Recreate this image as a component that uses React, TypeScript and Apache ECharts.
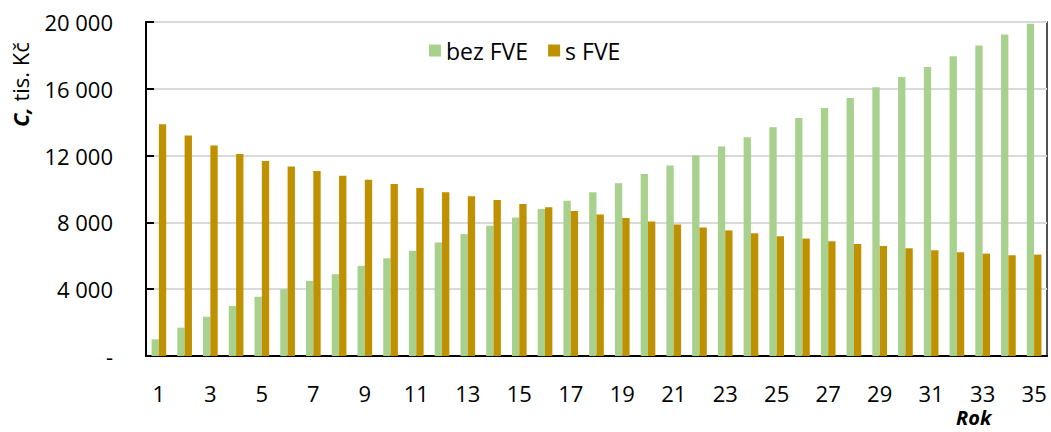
import React, { useEffect, useRef } from "react";
import * as echarts from "echarts";

const years: string[] = Array.from({ length: 35 }, (_, i) => String(i + 1));
const bezFVE: number[] = [
  1000, 1700, 2350, 3000, 3550, 4000, 4500, 4900, 5400, 5850,
  6300, 6800, 7300, 7800, 8300, 8800, 9300, 9800, 10350, 10900,
  11400, 12000, 12550, 13100, 13700, 14250, 14850, 15450, 16100, 16700,
  17300, 17950, 18600, 19250, 19900,
];
const sFVE: number[] = [
  13870, 13200, 12600, 12100, 11680, 11340, 11080, 10800, 10560, 10300,
  10060, 9800, 9560, 9340, 9100, 8900, 8680, 8480, 8260, 8060,
  7880, 7690, 7520, 7350, 7170, 7030, 6870, 6710, 6590, 6450,
  6330, 6210, 6130, 6030, 6070,
];
const seriesNames: string[] = ["bez FVE", "s FVE"];
const yTicks: number[] = [0, 4000, 8000, 12000, 16000, 20000];

const FONT = "'Open Sans', 'Noto Sans', sans-serif";

function fmt(v: number): string {
  if (v === 0) return "-";
  return String(v).replace(/\B(?=(\d{3})+(?!\d))/g, " ");
}

export default function App() {
  const ref = useRef<HTMLDivElement>(null);
  useEffect(() => {
    if (!ref.current) return;
    const chart = echarts.init(ref.current, undefined, { renderer: "svg" });
    chart.setOption({
      animation: false,
      backgroundColor: "#ffffff",
      textStyle: { fontFamily: FONT },
      grid: {
        left: 146,
        right: 4,
        top: 22,
        bottom: 76,
        show: true,
        borderColor: "#1a1a1a",
        borderWidth: 1.5,
      },
      legend: {
        data: seriesNames,
        left: 424,
        top: 34,
        itemWidth: 12,
        itemHeight: 12,
        itemGap: 20,
        icon: "rect",
        textStyle: { fontFamily: FONT, fontSize: 23, color: "#000" },
      },
      xAxis: {
        type: "category",
        data: years,
        axisLine: { lineStyle: { color: "#000", width: 2 } },
        axisTick: { show: false },
        axisLabel: {
          interval: 1,
          fontFamily: FONT,
          fontSize: 22,
          lineHeight: 20,
          color: "#000",
          margin: 27,
        },
      },
      yAxis: {
        type: "value",
        min: yTicks[0],
        max: yTicks[yTicks.length - 1],
        interval: yTicks[1] - yTicks[0],
        axisLine: { show: true, lineStyle: { color: "#000", width: 2 } },
        axisTick: { show: true, inside: true, length: 8, lineStyle: { color: "#000", width: 2 } },
        splitLine: { lineStyle: { color: "#d9d9d9", width: 2 } },
        axisLabel: {
          formatter: (v: number) => fmt(v),
          fontFamily: FONT,
          fontSize: 22,
          color: "#000",
          margin: 33,
        },
      },
      series: [
        {
          name: seriesNames[0],
          type: "bar",
          data: bezFVE,
          itemStyle: { color: "#A9D18E" },
          barGap: "0%",
          barCategoryGap: "43%",
        },
        {
          name: seriesNames[1],
          type: "bar",
          data: sFVE,
          itemStyle: { color: "#BF9000" },
          barGap: "0%",
          barCategoryGap: "43%",
        },
      ],
      graphic: [
        {
          type: "text",
          x: 9,
          y: 127,
          rotation: Math.PI / 2,
          style: {
            text: "{b|C,} tis. Kč",
            fontFamily: FONT,
            fontSize: 22,
            fill: "#000",
            rich: {
              b: { fontFamily: FONT, fontSize: 22, fontWeight: "bold", fontStyle: "italic", fill: "#000" },
            },
          },
        },
        {
          type: "text",
          x: 956,
          y: 417,
          style: {
            text: "Rok",
            fontFamily: FONT,
            fontSize: 20,
            verticalAlign: "middle",
            fontWeight: "bold",
            fontStyle: "italic",
            fill: "#000",
          },
        },
      ],
    });
    return () => chart.dispose();
  }, []);
  return (
    <div
      ref={ref}
      style={{ position: "fixed", left: 0, top: 0, width: 1051, height: 432 }}
    />
  );
}
